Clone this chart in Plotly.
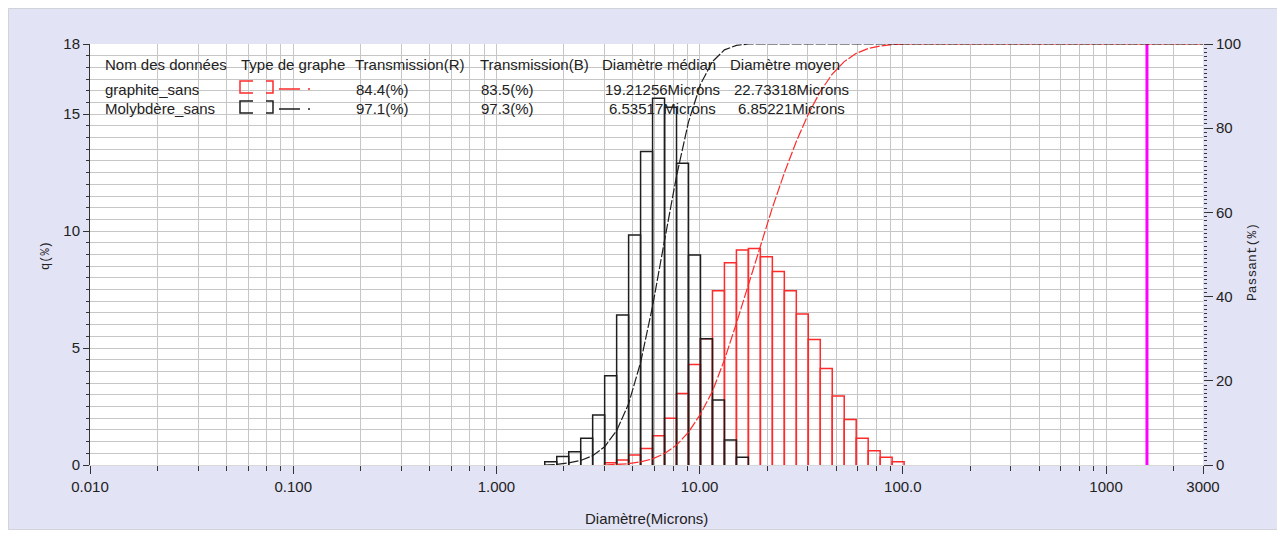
import numpy as np
import plotly.graph_objects as go

# ---------------- data ----------------
# lower bin edges (microns) and q(%) for each sample; last upper edge given separately
moly_lower = [1.729, 1.981, 2.269, 2.599, 2.976, 3.409, 3.905, 4.472, 5.122, 5.867,
              6.720, 7.697, 8.816, 10.097, 11.565, 13.246, 15.172]
moly_upper_last = 17.377
moly_q = [0.14, 0.36, 0.57, 1.14, 2.14, 3.82, 6.41, 9.83, 13.4, 15.68,
          15.3, 12.9, 8.98, 5.40, 2.78, 1.07, 0.33]

graph_lower = [3.409, 3.905, 4.472, 5.122, 5.867, 6.720, 7.697, 8.816, 10.097, 11.565,
               13.246, 15.172, 17.377, 19.904, 22.797, 26.111, 29.907, 34.255, 39.234,
               44.938, 51.471, 58.953, 67.523, 77.339, 88.583]
graph_upper_last = 101.46
graph_q = [0.10, 0.21, 0.43, 0.71, 1.25, 2.00, 3.06, 4.30, 5.40, 7.45,
           8.65, 9.19, 9.26, 8.90, 8.27, 7.45, 6.46, 5.37, 4.13,
           2.95, 1.95, 1.14, 0.61, 0.33, 0.14]

x_max = 3000.0
marker_x = 1590.0   # magenta vertical marker

xtick_vals = [0.01, 0.1, 1, 10, 100, 1000, 3000]
xtick_text = ["0.010", "0.100", "1.000", "10.00", "100.0", "1000", "3000"]
ytick_vals = [0, 5, 10, 15, 18]
y2tick_vals = [0, 20, 40, 60, 80, 100]

names = ["graphite_sans", "Molybdère_sans"]
trans_r = ["84.4(%)", "97.1(%)"]
trans_b = ["83.5(%)", "97.3(%)"]
median = ["19.21256Microns", "6.53517Microns"]
mean = ["22.73318Microns", "6.85221Microns"]
headers = ["Nom des données", "Type de graphe", "Transmission(R)", "Transmission(B)",
           "Diamètre médian", "Diamètre moyen"]

RED = "#ff2a2a"
BLK = "#1e1e1e"

# ---------------- helpers ----------------
def bar_path(lower, upper_last, q):
    uppers = list(lower[1:]) + [upper_last]
    xs, ys = [], []
    for l, u, v in zip(lower, uppers, q):
        xs += [l, l, u, u, None]
        ys += [0, v, v, 0, None]
    return xs, ys

def cumulative(lower, upper_last, q):
    uppers = list(lower[1:]) + [upper_last]
    c = np.cumsum(q)
    c = c / c[-1] * 100.0
    xs = [lower[0]] + uppers + [x_max]
    ys = [0.0] + list(c) + [100.0]
    return xs, ys

fig = go.Figure()

for lower, ul, q, col in [(graph_lower, graph_upper_last, graph_q, RED),
                          (moly_lower, moly_upper_last, moly_q, BLK)]:
    bx, by = bar_path(lower, ul, q)
    fig.add_trace(go.Scatter(x=bx, y=by, mode="lines", line=dict(color=col, width=1.5),
                             hoverinfo="skip", showlegend=False))

for lower, ul, q, col in [(graph_lower, graph_upper_last, graph_q, RED),
                          (moly_lower, moly_upper_last, moly_q, BLK)]:
    cx, cy = cumulative(lower, ul, q)
    fig.add_trace(go.Scatter(x=cx, y=cy, yaxis="y2", mode="lines",
                             line=dict(color=col, width=1.2, dash="10px,2px"),
                             hoverinfo="skip", showlegend=False))

fig.add_trace(go.Scatter(x=[marker_x, marker_x], y=[0, 18], mode="lines",
                         line=dict(color="#ff00ff", width=3), hoverinfo="skip",
                         showlegend=False))

# ---------------- layout ----------------
OFF = 8                      # page body margin
W_FIG, H_FIG = 1270, 522
L, R, T, B = 82, 75, 36, 65
PW, PH = W_FIG - L - R, H_FIG - T - B

def px(x):                   # page pixel -> paper
    return (x - OFF - L) / PW

def py(y):
    return (T + PH - (y - OFF)) / PH

minor_x = []
for dec in [0.01, 0.1, 1, 10, 100, 1000]:
    for m in [2.15, 3.4, 4.7, 6.0, 7.4, 8.7]:
        v = dec * m
        if v < x_max:
            minor_x.append(v)

TICKFONT = dict(family="Liberation Sans Narrow, Liberation Sans, Arial", size=15, color="#222")
GRID = "#c6c6c6"

fig.update_layout(
    width=W_FIG, height=H_FIG,
    margin=dict(l=L, r=R, t=T, b=B, autoexpand=False),
    paper_bgcolor="#e3e3f6",
    plot_bgcolor="white",
    showlegend=False,
    xaxis=dict(type="log", range=[np.log10(0.01), np.log10(x_max)],
               tickmode="array", tickvals=xtick_vals, ticktext=xtick_text,
               ticks="outside", ticklen=8, tickcolor="#333", tickwidth=1,
               showgrid=True, gridcolor=GRID, gridwidth=1,
               showline=True, linecolor="#d8d8d8", linewidth=1,
               zeroline=False, tickfont=TICKFONT,
               minor=dict(tickmode="array", tickvals=minor_x, ticks="outside",
                          ticklen=5, tickcolor="#333", showgrid=True,
                          gridcolor=GRID, gridwidth=1)),
    yaxis=dict(range=[0, 18], tickmode="array", tickvals=ytick_vals,
               ticks="outside", ticklen=6, tickcolor="#333",
               showgrid=True, gridcolor=GRID, gridwidth=1,
               showline=True, linecolor="#333", linewidth=1,
               zeroline=False, tickfont=TICKFONT,
               minor=dict(dtick=0.5, ticks="outside", ticklen=3, tickcolor="#333",
                          showgrid=True, gridcolor=GRID, gridwidth=1)),
    yaxis2=dict(range=[0, 100], overlaying="y", side="right",
                tickmode="array", tickvals=y2tick_vals,
                ticks="outside", ticklen=9, tickcolor="#333",
                showgrid=False, showline=False, zeroline=False, tickfont=TICKFONT,
                minor=dict(dtick=1, ticks="outside", ticklen=3, tickcolor="#333",
                           showgrid=False)),
)

ann = []
TFONT = dict(family="Liberation Sans, Arial", size=15, color="#222")

def txt(x, y, s, anchor="left", font=TFONT, angle=0):
    ann.append(dict(x=px(x), y=py(y), xref="paper", yref="paper", text=s,
                    showarrow=False, xanchor=anchor, yanchor="middle",
                    font=font, textangle=angle))

# table header
txt(103, 64, headers[0])
txt(239, 64, headers[1])
txt(409, 64, headers[2], "center")
txt(534, 64, headers[3], "center")
txt(659, 64, headers[4], "center")
txt(785, 64, headers[5], "center")
row_y = [89, 109]
for i in range(2):
    txt(103, row_y[i], names[i])
    txt(382, row_y[i], trans_r[i], "center")
    txt(507, row_y[i], trans_b[i], "center")
    txt(662, row_y[i], median[i], "center")
    txt(791, row_y[i], mean[i], "center")

# axis titles
txt(646, 518, "Diamètre(Microns)", "center",
    dict(family="Liberation Sans Narrow, Liberation Sans, Arial", size=15, color="#222"))
txt(46, 256, "q(%)", "center", dict(family="Liberation Mono, Courier New", size=12, color="#222"), -90)
txt(1253, 262, "Passant(%)", "center", dict(family="Liberation Mono, Courier New", size=13, color="#222"), -90)

fig.update_layout(annotations=ann)

# legend icons (page pixel positions converted to paper)
shapes = []
def path_px(points_list, color, width=1.5):
    d = ""
    for seg in points_list:
        for k, (x, y) in enumerate(seg):
            d += ("M" if k == 0 else "L") + f"{px(x):.5f},{py(y):.5f} "
    shapes.append(dict(type="path", path=d.strip(), xref="paper", yref="paper",
                       line=dict(color=color, width=width)))

for col, top, bot, ly in [(RED, 81, 93, 89), (BLK, 101, 113, 109)]:
    path_px([[(253, top), (240, top), (240, bot), (253, bot)],
             [(266, top), (273, top), (273, bot), (266, bot)],
             [(279, ly), (300, ly)],
             [(308, ly), (310, ly)]], col)

# thin frame around the figure
shapes.append(dict(type="rect", xref="paper", yref="paper",
                   x0=px(8.5), x1=px(1277.5), y0=py(529.5), y1=py(8.5),
                   line=dict(width=1, color="#d2d2da"), layer="above"))

fig.update_layout(shapes=shapes)

fig.write_html("out.html")
